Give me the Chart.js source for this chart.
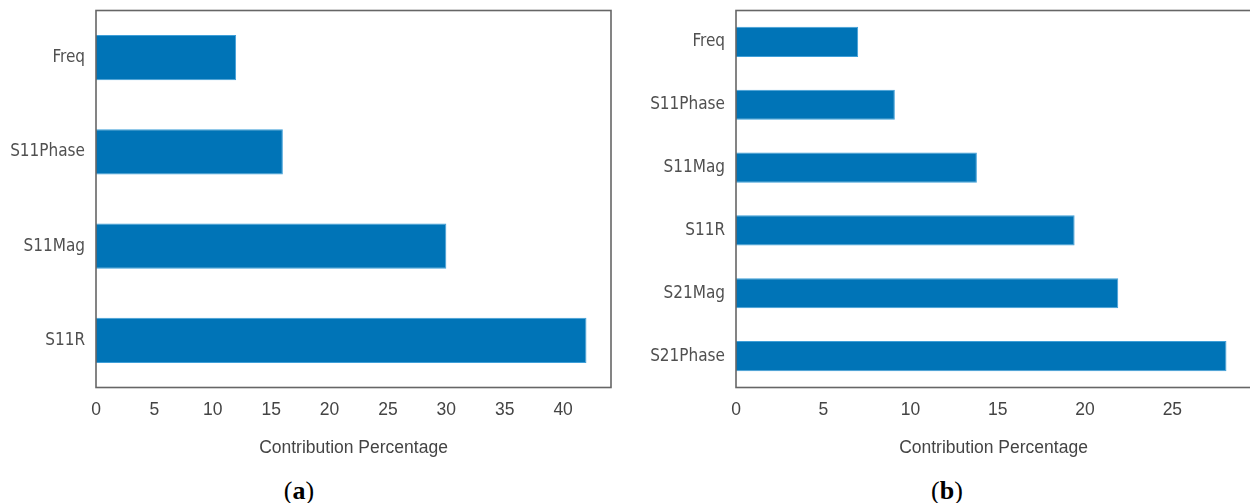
<!DOCTYPE html>
<html>
<head>
<meta charset="utf-8">
<script src="https://cdn.jsdelivr.net/npm/chart.js@4.4.1/dist/chart.umd.min.js"></script>
<style>
  html, body { margin: 0; padding: 0; background: #fff; }
  body { position: relative; width: 1250px; height: 503px; overflow: hidden; }
  canvas { position: absolute; top: 0; }
  #chartA { left: 0; }
  #chartB { left: 640px; }
  .caption {
    position: absolute; top: 476px; width: 100px; height: 30px; line-height: 30px;
    text-align: center; font-family: 'Liberation Serif', 'Times New Roman', serif;
    font-size: 26px; color: #000;
  }
</style>
</head>
<body>
<canvas id="chartA" width="630" height="470"></canvas>
<canvas id="chartB" width="630" height="470"></canvas>
<div class="caption" style="left:249px">(<b>a</b>)</div>
<div class="caption" style="left:897px">(<b>b</b>)</div>
<script>
// Feature contribution, panel (a)
const labelsA = ['Freq', 'S11Phase', 'S11Mag', 'S11R'];
const valuesA = [12, 16, 30, 42];

// Feature contribution, panel (b)
const labelsB = ['Freq', 'S11Phase', 'S11Mag', 'S11R', 'S21Mag', 'S21Phase'];
const valuesB = [7.0, 9.1, 13.8, 19.4, 21.9, 28.1];

const tickStep = 5;
const axisTitle = 'Contribution Percentage';

// full rectangular frame around the plot area
const framePlugin = {
  id: 'frame',
  afterDraw(chart) {
    const { ctx, chartArea: a } = chart;
    ctx.save();
    ctx.strokeStyle = '#666';
    ctx.lineWidth = 1.6;
    ctx.strokeRect(a.left, a.top, a.right - a.left, a.bottom - a.top);
    ctx.restore();
  }
};

function makeChart(id, labels, values) {
  return new Chart(document.getElementById(id), {
    type: 'bar',
    data: {
      labels: labels,
      datasets: [{
        data: values,
        backgroundColor: '#0074b7',
        borderColor: '#3f9fd8',
        borderWidth: 1,
        barPercentage: 0.48,
        categoryPercentage: 1
      }]
    },
    options: {
      indexAxis: 'y',
      responsive: false,
      animation: false,
      layout: { padding: { top: 10.5, right: 19, left: 0, bottom: 0 } },
      plugins: { legend: { display: false }, tooltip: { enabled: false } },
      scales: {
        x: {
          min: 0,
          max: Math.max(...values) * 1.05,
          grid: { display: false, drawTicks: false },
          border: { display: false },
          ticks: {
            stepSize: tickStep,
            includeBounds: false,
            padding: 12,
            color: '#444',
            font: { family: "'Liberation Sans', Arial, sans-serif", size: 17.5 }
          },
          title: {
            display: true,
            text: axisTitle,
            color: '#444',
            padding: { top: 0, bottom: 11 },
            font: { family: "'Liberation Sans', Arial, sans-serif", size: 17.5 }
          },
          afterFit(scale) {
            scale.height = 82.5;
            scale.paddingLeft = 0;
            scale.paddingRight = 0;
          }
        },
        y: {
          grid: { display: false, drawTicks: false },
          border: { display: false },
          ticks: {
            padding: 11,
            color: '#505050',
            font: { family: "'DejaVu Sans Condensed', 'DejaVu Sans', sans-serif", size: 17 }
          },
          afterFit(scale) {
            scale.width = 96;
            scale.paddingTop = 0;
            scale.paddingBottom = 0;
          }
        }
      }
    },
    plugins: [framePlugin]
  });
}

makeChart('chartA', labelsA, valuesA);
makeChart('chartB', labelsB, valuesB);
</script>
</body>
</html>
